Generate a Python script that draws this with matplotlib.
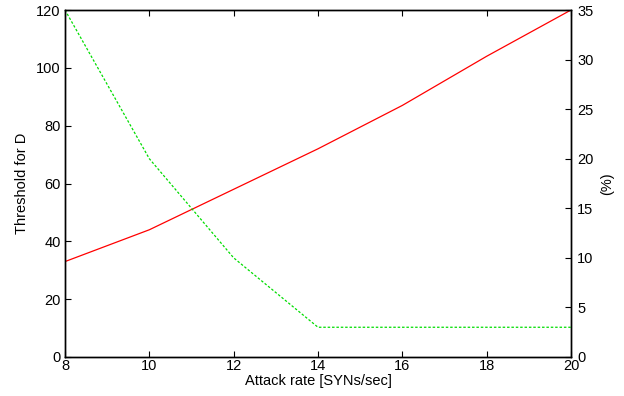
import matplotlib
matplotlib.use("Agg")
import matplotlib.pyplot as plt

plt.rcParams['font.family'] = ['Liberation Sans', 'DejaVu Sans']

# data
rate = [8, 10, 12, 14, 16, 18, 20]
threshold = [33, 44, 58, 72, 87, 104, 120]
percent = [35, 20, 10, 3, 3, 3, 3]

fig = plt.figure(figsize=(6.24, 3.96), dpi=100)
ax = fig.add_axes([65 / 624, 39 / 396, 506 / 624, 347 / 396])
ax2 = ax.twinx()

ax.plot(rate, threshold, color='#ff0000', lw=0.9)
ax2.plot(rate, percent, color='#00dd00', lw=0.9, ls=(0, (2, 1.5)))

ax.set_xlim(8, 20)
ax.set_ylim(0, 120)
ax2.set_ylim(0, 35)
ax.set_xticks(range(8, 21, 2))
ax.set_yticks(range(0, 121, 20))
ax2.set_yticks(range(0, 36, 5))

fs = 10.5
ax.set_xlabel('Attack rate [SYNs/sec]', fontsize=fs, labelpad=1)
ax.set_ylabel('Threshold for D', fontsize=fs, labelpad=5)
ax2.set_ylabel('(%)', fontsize=fs, labelpad=5)

ax.tick_params(axis='x', direction='in', top=True, length=4, labelsize=fs, pad=1.5)
ax.tick_params(axis='y', direction='in', length=4, labelsize=fs, pad=3)
ax2.tick_params(axis='y', direction='in', length=4, labelsize=fs, pad=4.5)

for a in (ax, ax2):
    for s in a.spines.values():
        s.set_linewidth(1.0)

fig.savefig('out.png', dpi=100)
